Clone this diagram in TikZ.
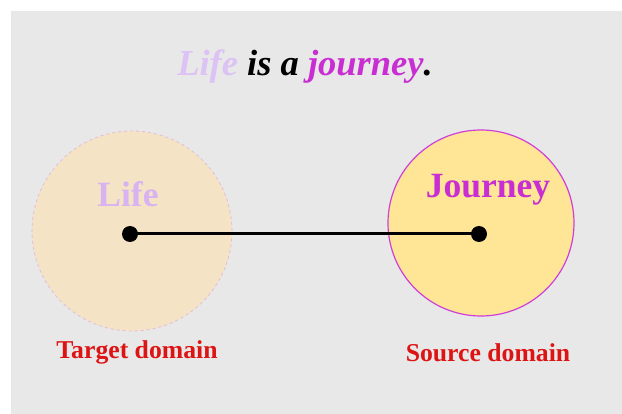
\documentclass[tikz,border=0pt]{standalone}
\usepackage{fontspec}
\setmainfont{Liberation Serif}
\definecolor{bggray}{HTML}{E8E8E8}
\definecolor{lifelav}{HTML}{D9B2F2}
\definecolor{titlelav}{HTML}{DCC2F5}
\definecolor{journeymag}{HTML}{C82ED2}
\definecolor{domainred}{HTML}{DD1414}
\definecolor{wheatfill}{HTML}{F5E3C6}
\definecolor{wheatedge}{HTML}{E2BCDD}
\definecolor{goldfill}{HTML}{FFE596}
\definecolor{goldedge}{HTML}{D03ED8}
\tikzset{
  domaincircle/.style={circle, inner sep=0pt, minimum size=#1},
  dotnode/.style={circle, fill=black, inner sep=0pt, minimum size=16pt},
  conceptlabel/.style={font=\bfseries\fontsize{35.5}{40}\selectfont, inner sep=0pt},
  domainlabel/.style={font=\bfseries\fontsize{25.7}{30}\selectfont, text=domainred, inner sep=0pt},
}
\begin{document}
\begin{tikzpicture}[x=1pt,y=-1pt]
  \useasboundingbox (0,0) rectangle (622,414);
  \fill[white] (0,0) rectangle (622,414);
  \fill[bggray] (11,11) rectangle (622,414);

  % title sentence
  \node[inner sep=0pt, font=\bfseries\itshape\fontsize{36.5}{40}\selectfont] (title) at (305,67)
    {\textcolor{titlelav}{Life} is a \textcolor{journeymag}{journey}.};

  % target domain: Life
  \node[domaincircle=200pt, fill=wheatfill, draw=wheatedge, dashed, line width=0.8pt] (target) at (132,231) {};
  % source domain: Journey
  \node[domaincircle=186pt, fill=goldfill, draw=goldedge, line width=1.2pt] (source) at (481,223) {};

  \node[conceptlabel, text=lifelav] (lifelbl) at (128,194) {Life};
  \node[conceptlabel, text=journeymag] (journeylbl) at (488,190) {Journey};

  % mapping between the two domains
  \node[dotnode] (lifedot) at (130,234) {};
  \node[dotnode] (journeydot) at (479,234) {};
  \draw[line width=3pt] (lifedot.center) -- (journeydot.center);

  \node[domainlabel] (targetlbl) at (137,352) {Target domain};
  \node[domainlabel] (sourcelbl) at (488,353) {Source domain};
\end{tikzpicture}
\end{document}
